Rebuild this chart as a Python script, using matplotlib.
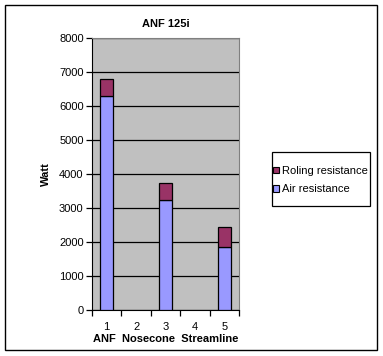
import numpy as np
import matplotlib.pyplot as plt
from matplotlib.patches import Rectangle

plt.rcParams['font.family'] = ['Liberation Sans', 'DejaVu Sans']

categories = [1, 2, 3, 4, 5]
air = [6280, 0, 3230, 0, 1865]
rolling = [510, 0, 520, 0, 570]
series_names = ['Air resistance', 'Roling resistance']
title = 'ANF 125i'
W, H = 383, 356

fig = plt.figure(figsize=(W / 100, H / 100), dpi=100)
fig.patch.set_facecolor('white')

# outer chart frame
fig.patches.append(Rectangle((5 / W, 1 - 350 / H), 372 / W, 345 / H, transform=fig.transFigure,
                             fill=False, edgecolor='black', linewidth=1.0))
# legend frame (drawn by hand, excel pads it unevenly)
fig.patches.append(Rectangle((272 / W, 1 - 206 / H), 98 / W, 54 / H, transform=fig.transFigure,
                             fill=False, edgecolor='black', linewidth=0.9))

left, right, top, bottom = 92, 239, 38, 310
ax = fig.add_axes([left / W, 1 - bottom / H, (right - left) / W, (bottom - top) / H])
ax.set_facecolor('#C0C0C0')

x = np.array(categories)
mask = np.array(air) > 0
b1 = ax.bar(x[mask], np.array(air)[mask], width=0.45, color='#9999FF', edgecolor='black',
            linewidth=0.9, label=series_names[0], zorder=3)
b2 = ax.bar(x[mask], np.array(rolling)[mask], bottom=np.array(air)[mask], width=0.45,
            color='#993366', edgecolor='black', linewidth=0.9, label=series_names[1], zorder=3)

ax.set_xlim(0.5, 5.5)
ax.set_ylim(0, 8000)
ax.set_yticks(range(0, 8001, 1000))
ax.yaxis.grid(True, color='black', linewidth=0.9, zorder=1)
ax.set_axisbelow(True)

ax.set_xticks(np.arange(0.5, 5.6, 1.0))
ax.set_xticklabels([])
ax.set_xticks(x, minor=True)
ax.set_xticklabels([str(c) for c in categories], minor=True)
ax.tick_params(axis='x', which='major', direction='out', length=4, width=0.9)
ax.tick_params(axis='x', which='minor', length=0, pad=9, labelsize=8)
ax.tick_params(axis='y', direction='out', length=4, width=0.9, labelsize=8, pad=2)

for s in ['top', 'right']:
    ax.spines[s].set_color('#808080')
for s in ['left', 'bottom']:
    ax.spines[s].set_color('black')

ax.set_title(title, fontsize=8, fontweight='bold', pad=8)
ax.set_ylabel('Watt', fontsize=8, fontweight='bold', labelpad=6)
ax.set_xlabel('ANF  Nosecone  Streamline', fontsize=8, fontweight='bold', labelpad=1)

handles = [b2, b1]
leg = fig.legend(handles, [series_names[1], series_names[0]], loc='center left',
                 bbox_to_anchor=(273 / W, 1 - 180 / H), fontsize=8, frameon=False,
                 handlelength=0.55, handleheight=0.55, handletextpad=0.25,
                 borderpad=0, labelspacing=0.75, borderaxespad=0)
for h in leg.legend_handles:
    h.set_linewidth(0.8)

fig.savefig('out.png', dpi=100)
